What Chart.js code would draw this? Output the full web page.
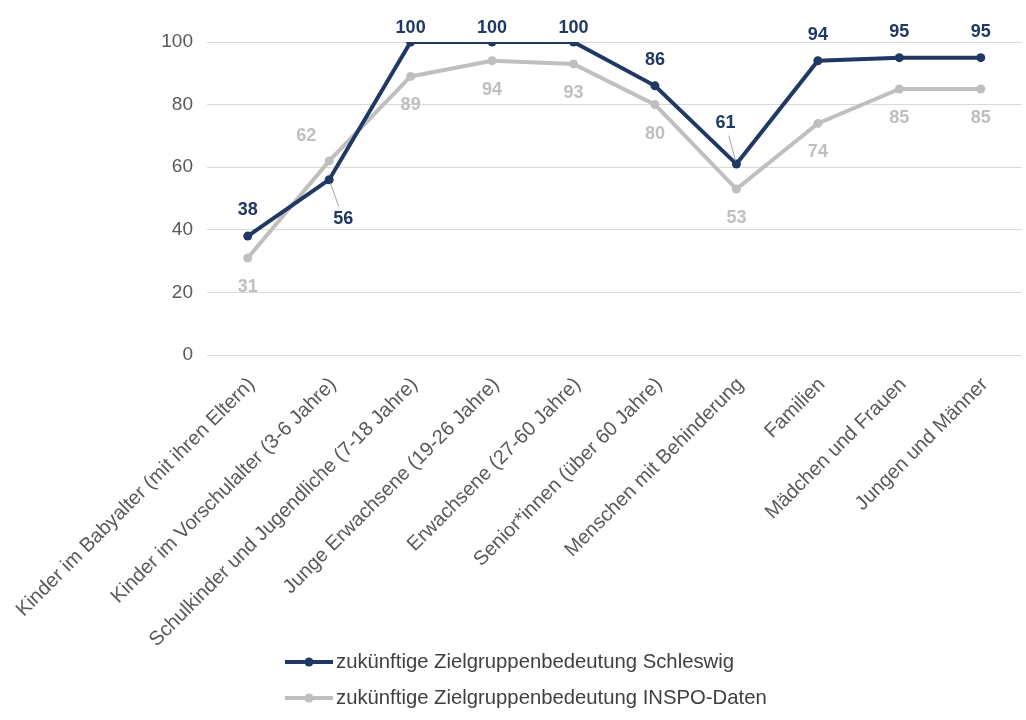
<!DOCTYPE html>
<html>
<head>
<meta charset="utf-8">
<script src="https://cdn.jsdelivr.net/npm/chart.js@4.4.0/dist/chart.umd.min.js"></script>
<style>
  html, body { margin: 0; padding: 0; background: #ffffff; }
  #wrap { width: 1026px; height: 720px; position: relative; }
</style>
</head>
<body>
<div id="wrap"><canvas id="chart" width="1026" height="720"></canvas></div>
<script>
// Target groups (x axis)
const categories = [
  'Kinder im Babyalter (mit ihren Eltern)',
  'Kinder im Vorschulalter (3-6 Jahre)',
  'Schulkinder und Jugendliche (7-18 Jahre)',
  'Junge Erwachsene (19-26 Jahre)',
  'Erwachsene (27-60 Jahre)',
  'Senior*innen (über 60 Jahre)',
  'Menschen mit Behinderung',
  'Familien',
  'Mädchen und Frauen',
  'Jungen und Männer'
];

// Series values
const schleswig = [38, 56, 100, 100, 100, 86, 61, 94, 95, 95];
const inspo     = [31, 62, 89, 94, 93, 80, 53, 74, 85, 85];

const seriesNames = [
  'zukünftige Zielgruppenbedeutung Schleswig',
  'zukünftige Zielgruppenbedeutung INSPO-Daten'
];

// Y axis tick labels
const yTicks = [0, 20, 40, 60, 80, 100];

const DARK = '#1f3864';
const GREY = '#bfbfbf';
const FONT = "'Liberation Sans', Arial, sans-serif";

// Where each value label sits relative to its point
const labelStyle = [
  { color: DARK, def: { dx: 0, dy: -26 },
    special: { 1: { dx: 14, dy: 39, leader: true }, 6: { dx: -11, dy: -41, leader: true } } },
  { color: GREY, def: { dx: 0, dy: 29 },
    special: { 1: { dx: -23, dy: -25 } } }
];

const valueLabels = {
  id: 'valueLabels',
  afterDatasetsDraw(chart) {
    const ctx = chart.ctx;
    const top = chart.chartArea.top;
    ctx.save();
    ctx.font = 'bold 18px ' + FONT;
    ctx.textAlign = 'center';
    ctx.textBaseline = 'middle';
    chart.data.datasets.forEach((ds, di) => {
      const meta = chart.getDatasetMeta(di);
      const st = labelStyle[di];
      meta.data.forEach((pt, i) => {
        const p = st.special[i] || st.def;
        const lx = pt.x + p.dx;
        let ly = pt.y + p.dy;
        if (ly < top - 14) ly = top - 14;
        if (p.leader) {
          const vx = pt.x - lx, vy = pt.y - ly;
          const len = Math.hypot(vx, vy);
          const ux = vx / len, uy = vy / len;
          ctx.strokeStyle = '#8c8c8c';
          ctx.lineWidth = 0.8;
          ctx.beginPath();
          ctx.moveTo(lx + ux * 13, ly + uy * 13);
          ctx.lineTo(pt.x - ux * 3, pt.y - uy * 3);
          ctx.stroke();
        }
        ctx.fillStyle = st.color;
        ctx.fillText(String(ds.data[i]), lx, ly);
      });
    });
    ctx.restore();
  }
};

// Legend drawn as line-with-marker entries stacked under the axis labels
const lineLegend = {
  id: 'lineLegend',
  afterDraw(chart) {
    const ctx = chart.ctx;
    const rows = [662, 698];
    ctx.save();
    chart.data.datasets.forEach((ds, i) => {
      const y = rows[i];
      ctx.strokeStyle = ds.borderColor;
      ctx.lineWidth = 4;
      ctx.beginPath();
      ctx.moveTo(285, y);
      ctx.lineTo(333, y);
      ctx.stroke();
      ctx.fillStyle = ds.borderColor;
      ctx.beginPath();
      ctx.arc(309, y, 4.5, 0, Math.PI * 2);
      ctx.fill();
      ctx.fillStyle = '#404040';
      ctx.font = '20.3px ' + FONT;
      ctx.textAlign = 'left';
      ctx.textBaseline = 'middle';
      ctx.fillText(ds.label, 336, y);
    });
    ctx.restore();
  }
};

new Chart(document.getElementById('chart'), {
  type: 'line',
  data: {
    labels: categories,
    datasets: [
      {
        label: seriesNames[0],
        data: schleswig,
        borderColor: DARK,
        backgroundColor: DARK,
        pointBackgroundColor: DARK,
        borderWidth: 4,
        pointRadius: 4.5,
        pointBorderWidth: 0,
        tension: 0
      },
      {
        label: seriesNames[1],
        data: inspo,
        borderColor: GREY,
        backgroundColor: GREY,
        pointBackgroundColor: GREY,
        borderWidth: 4,
        pointRadius: 4.5,
        pointBorderWidth: 0,
        tension: 0
      }
    ]
  },
  options: {
    responsive: false,
    animation: false,
    devicePixelRatio: 1,
    layout: { padding: { top: 42, right: -2, left: 0, bottom: 0 } },
    plugins: {
      legend: { display: false },
      tooltip: { enabled: false }
    },
    scales: {
      x: {
        offset: true,
        grid: { display: false },
        border: { display: false },
        ticks: {
          autoSkip: false,
          maxRotation: 45,
          minRotation: 45,
          padding: 10,
          labelOffset: 4,
          color: '#595959',
          font: { family: FONT, size: 20 }
        },
        afterFit(scale) {
          scale.height = 365;
          scale.paddingLeft = 0;
          scale.paddingRight = 0;
        }
      },
      y: {
        min: 0,
        max: 100,
        afterBuildTicks(scale) { scale.ticks = yTicks.map(v => ({ value: v })); },
        grid: { color: '#d9d9d9', lineWidth: 1, drawTicks: false },
        border: { display: false },
        ticks: {
          padding: 14,
          color: '#595959',
          font: { family: FONT, size: 19 }
        },
        afterFit(scale) { scale.width = 207; }
      }
    }
  },
  plugins: [valueLabels, lineLegend]
});
</script>
</body>
</html>
